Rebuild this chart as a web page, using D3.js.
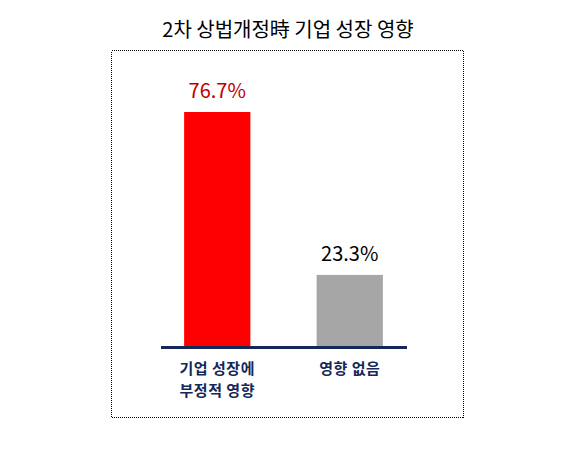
<!doctype html>
<html>
<head>
<meta charset="utf-8">
<script src="https://cdnjs.cloudflare.com/ajax/libs/d3/7.8.5/d3.min.js"></script>
<style>
  body { margin:0; background:#fff; }
  svg { display:block; font-family:"Noto Sans CJK KR", sans-serif; }
</style>
</head>
<body>
<svg id="chart" width="577" height="472"></svg>
<script>
  // values
  const categories = [["기업 성장에", "부정적 영향"], ["영향 없음"]];
  const values = [76.7, 23.3];
  const barColors = ["#ff0000", "#a6a6a6"];
  const labelColors = ["#c00000", "#000000"];
  const title = "2차 상법개정時 기업 성장 영향";

  const svg = d3.select("#chart");

  svg.append("text")
    .attr("x", 288).attr("y", 37)
    .attr("text-anchor", "middle")
    .style("font-size", "20px")
    .style("fill", "#000")
    .text(title);

  // dotted frame
  svg.append("rect")
    .attr("x", 111.5).attr("y", 50.5)
    .attr("width", 352).attr("height", 367)
    .attr("shape-rendering", "crispEdges")
    .style("fill", "none")
    .style("stroke", "#000")
    .style("stroke-width", 1)
    .style("stroke-dasharray", "1,1");

  const base = 346;
  const x = d3.scaleBand()
    .domain(d3.range(values.length))
    .range([151, 416])
    .paddingInner(0.5)
    .paddingOuter(0.25);

  const y = d3.scaleLinear()
    .domain([0, 76.7])
    .range([base, 112]);

  svg.selectAll("rect.bar")
    .data(values)
    .enter()
    .append("rect")
      .attr("class", "bar")
      .attr("x", (d, i) => x(i))
      .attr("y", d => y(d))
      .attr("width", x.bandwidth())
      .attr("height", d => base - y(d))
      .style("fill", (d, i) => barColors[i]);

  svg.selectAll("text.val")
    .data(values)
    .enter()
    .append("text")
      .attr("class", "val")
      .attr("x", (d, i) => x(i) + x.bandwidth() / 2)
      .attr("y", d => y(d) - 14)
      .attr("text-anchor", "middle")
      .style("font-size", "20px")
      .style("fill", (d, i) => labelColors[i])
      .text(d => d.toFixed(1) + "%");

  // baseline
  svg.append("line")
    .attr("x1", 161).attr("x2", 407)
    .attr("y1", base + 1.5).attr("y2", base + 1.5)
    .style("stroke", "#14285a")
    .style("stroke-width", 3);

  const cat = svg.selectAll("text.cat")
    .data(categories)
    .enter()
    .append("text")
      .attr("class", "cat")
      .attr("text-anchor", "middle")
      .style("font-size", "15px")
      .style("font-weight", "bold")
      .style("letter-spacing", "0.5px")
      .style("fill", "#14285a");

  cat.selectAll("tspan")
    .data((d, i) => d.map(t => ({t: t, i: i})))
    .enter()
    .append("tspan")
      .attr("x", d => x(d.i) + x.bandwidth() / 2)
      .attr("y", (d, j) => 374 + j * 22)
      .text(d => d.t);
</script>
</body>
</html>
